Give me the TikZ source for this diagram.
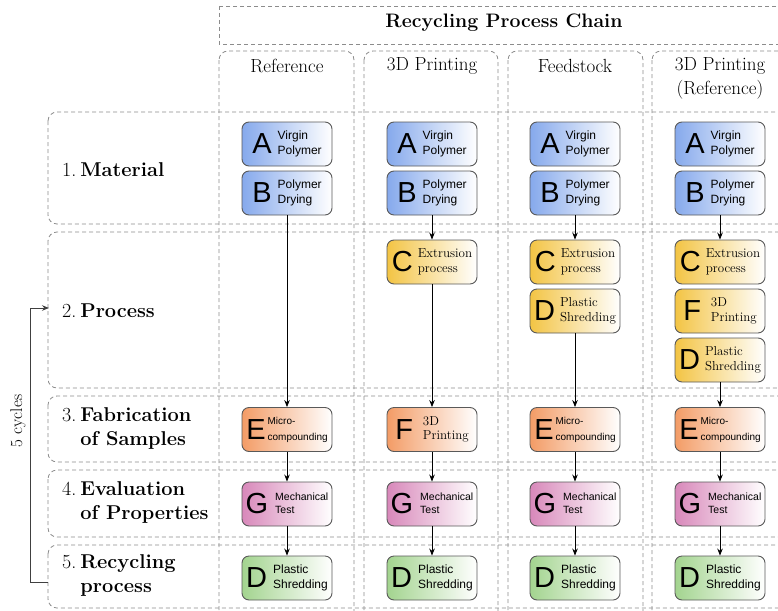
\documentclass[tikz,border=0pt]{standalone}
\usepackage{fontspec}
\setsansfont{Liberation Sans}
\usetikzlibrary{arrows.meta,positioning}

\definecolor{matblue}{HTML}{86A9EC}
\definecolor{procyellow}{HTML}{F3C444}
\definecolor{faborange}{HTML}{F39C66}
\definecolor{evalpink}{HTML}{D888BA}
\definecolor{recgreen}{HTML}{A3D48F}

\newcommand{\stage}[4]{$\vcenter{\hbox{\fontsize{29}{29}\selectfont\sffamily #1}}$\hspace{#2}$\vcenter{\hbox{#3\begin{tabular}{@{}l@{}}#4\end{tabular}}}$}
\newcommand{\sanstxt}{\fontsize{12}{15}\selectfont\sffamily}
\newcommand{\smalltxt}{\fontsize{10}{16}\selectfont\sffamily}
\newcommand{\testtxt}{\fontsize{10.5}{13}\selectfont\sffamily}
\newcommand{\seriftxt}{\fontsize{13}{14.5}\selectfont\rmfamily}
\newcommand{\rowname}[2]{#1.\hspace{4pt}\textbf{#2}}
\newcommand{\rownametwo}[3]{\begin{tabular}{@{}l@{\hspace{4pt}}l@{}}#1. & \textbf{#2}\\ & \textbf{#3}\end{tabular}}

\begin{document}
\begin{tikzpicture}[x=1pt,y=-1pt]
\tikzset{
  laneframe/.style={draw=black!45,dash pattern=on 4pt off 3pt,line width=0.8pt,rounded corners=9pt},
  stagenode/.style={rectangle,rounded corners=7pt,draw=black!65,line width=0.9pt,minimum width=90pt,minimum height=44pt,inner sep=0pt,right color=white},
  rowlabel/.style={anchor=west,inner sep=0pt,font=\fontsize{20}{24}\selectfont},
  coltitle/.style={inner sep=0pt,align=center,font=\fontsize{19}{24}\selectfont},
  flowedge/.style={draw=black,line width=0.8pt,-{Stealth[length=7pt,width=5.5pt]}},
  cycleedge/.style={draw=black!75,line width=0.9pt,-{Stealth[length=7pt,width=5.5pt]}}
}
\useasboundingbox (0,0) rectangle (778,610);
\draw[laneframe,sharp corners] (219,6) rectangle (792,44);
\draw[laneframe] (219,51) rectangle (354,630);
\draw[laneframe] (364,51) rectangle (498,630);
\draw[laneframe] (508,51) rectangle (643,630);
\draw[laneframe] (652,51) rectangle (787,630);
\draw[laneframe] (48,112) rectangle (800,224);
\draw[laneframe] (48,232) rectangle (800,388);
\draw[laneframe] (48,396) rectangle (800,462);
\draw[laneframe] (48,470) rectangle (800,537);
\draw[laneframe] (48,545) rectangle (800,608);
\node[inner sep=0pt,font=\fontsize{19.5}{23}\selectfont\bfseries] (n_title) at (504,23) {Recycling Process Chain};
\node[coltitle] (n_ref) at (287,66) {Reference};
\node[coltitle] (n_pr) at (432,66) {3D Printing};
\node[coltitle] (n_fs) at (575,66) {Feedstock};
\node[coltitle] (n_pref) at (720,78) {3D Printing\\(Reference)};
\node[rowlabel] (n_row1) at (62,170) {\rowname{1}{Material}};
\node[rowlabel] (n_row2) at (62,311) {\rowname{2}{Process}};
\node[rowlabel] (n_row3) at (62,429) {\rownametwo{3}{Fabrication}{of Samples}};
\node[rowlabel] (n_row4) at (62,503) {\rownametwo{4}{Evaluation}{of Properties}};
\node[rowlabel] (n_row5) at (62,576) {\rownametwo{5}{Recycling}{process}};
\node[stagenode,left color=matblue] (n_ref_A) at (287,144) {\stage{A}{6pt}{\sanstxt}{Virgin\\Polymer}};
\node[stagenode,left color=matblue] (n_ref_B) at (287,193) {\stage{B}{6pt}{\sanstxt}{Polymer\\Drying}};
\node[stagenode,left color=faborange] (n_ref_E) at (287,429.5) {\stage{E}{2pt}{\smalltxt}{Micro-\\compounding}};
\node[stagenode,left color=evalpink] (n_ref_G) at (287,504) {\stage{G}{7pt}{\testtxt}{Mechanical\\Test}};
\node[stagenode,left color=recgreen] (n_ref_D) at (287,578) {\stage{D}{6pt}{\sanstxt}{Plastic\\Shredding}};
\node[stagenode,left color=matblue] (n_pr_A) at (432,144) {\stage{A}{6pt}{\sanstxt}{Virgin\\Polymer}};
\node[stagenode,left color=matblue] (n_pr_B) at (432,193) {\stage{B}{6pt}{\sanstxt}{Polymer\\Drying}};
\node[stagenode,left color=procyellow] (n_pr_C) at (432,262) {\stage{C}{5pt}{\seriftxt}{Extrusion\\process}};
\node[stagenode,left color=faborange] (n_pr_F) at (432,429.5) {\stage{F}{10pt}{\seriftxt}{3D\\Printing}};
\node[stagenode,left color=evalpink] (n_pr_G) at (432,504) {\stage{G}{7pt}{\testtxt}{Mechanical\\Test}};
\node[stagenode,left color=recgreen] (n_pr_D) at (432,578) {\stage{D}{6pt}{\sanstxt}{Plastic\\Shredding}};
\node[stagenode,left color=matblue] (n_fs_A) at (575,144) {\stage{A}{6pt}{\sanstxt}{Virgin\\Polymer}};
\node[stagenode,left color=matblue] (n_fs_B) at (575,193) {\stage{B}{6pt}{\sanstxt}{Polymer\\Drying}};
\node[stagenode,left color=procyellow] (n_fs_C) at (575,262) {\stage{C}{5pt}{\seriftxt}{Extrusion\\process}};
\node[stagenode,left color=procyellow] (n_fs_S) at (575,311) {\stage{D}{5pt}{\seriftxt}{Plastic\\Shredding}};
\node[stagenode,left color=faborange] (n_fs_E) at (575,429.5) {\stage{E}{2pt}{\smalltxt}{Micro-\\compounding}};
\node[stagenode,left color=evalpink] (n_fs_G) at (575,504) {\stage{G}{7pt}{\testtxt}{Mechanical\\Test}};
\node[stagenode,left color=recgreen] (n_fs_D) at (575,578) {\stage{D}{6pt}{\sanstxt}{Plastic\\Shredding}};
\node[stagenode,left color=matblue] (n_pref_A) at (720,144) {\stage{A}{6pt}{\sanstxt}{Virgin\\Polymer}};
\node[stagenode,left color=matblue] (n_pref_B) at (720,193) {\stage{B}{6pt}{\sanstxt}{Polymer\\Drying}};
\node[stagenode,left color=procyellow] (n_pref_C) at (720,262) {\stage{C}{5pt}{\seriftxt}{Extrusion\\process}};
\node[stagenode,left color=procyellow] (n_pref_F) at (720,311) {\stage{F}{10pt}{\seriftxt}{3D\\Printing}};
\node[stagenode,left color=procyellow] (n_pref_S) at (720,360) {\stage{D}{5pt}{\seriftxt}{Plastic\\Shredding}};
\node[stagenode,left color=faborange] (n_pref_E) at (720,429.5) {\stage{E}{2pt}{\smalltxt}{Micro-\\compounding}};
\node[stagenode,left color=evalpink] (n_pref_G) at (720,504) {\stage{G}{7pt}{\testtxt}{Mechanical\\Test}};
\node[stagenode,left color=recgreen] (n_pref_D) at (720,578) {\stage{D}{6pt}{\sanstxt}{Plastic\\Shredding}};
\node[rotate=90,inner sep=0pt,font=\fontsize{17}{20}\selectfont] (n_cycles) at (18,421) {5 cycles};
\coordinate (cyc_out) at (48,582);
\coordinate (cyc_in) at (49,308);
\draw[flowedge] (n_ref_B) -- (n_ref_E);
\draw[flowedge] (n_ref_E) -- (n_ref_G);
\draw[flowedge] (n_ref_G) -- (n_ref_D);
\draw[flowedge] (n_pr_B) -- (n_pr_C);
\draw[flowedge] (n_pr_C) -- (n_pr_F);
\draw[flowedge] (n_pr_F) -- (n_pr_G);
\draw[flowedge] (n_pr_G) -- (n_pr_D);
\draw[flowedge] (n_fs_B) -- (n_fs_C);
\draw[flowedge] (n_fs_S) -- (n_fs_E);
\draw[flowedge] (n_fs_E) -- (n_fs_G);
\draw[flowedge] (n_fs_G) -- (n_fs_D);
\draw[flowedge] (n_pref_B) -- (n_pref_C);
\draw[flowedge] (n_pref_S) -- (n_pref_E);
\draw[flowedge] (n_pref_E) -- (n_pref_G);
\draw[flowedge] (n_pref_G) -- (n_pref_D);
\draw[cycleedge] (cyc_out) -- ++(-18,0) |- (cyc_in);
\end{tikzpicture}
\end{document}
